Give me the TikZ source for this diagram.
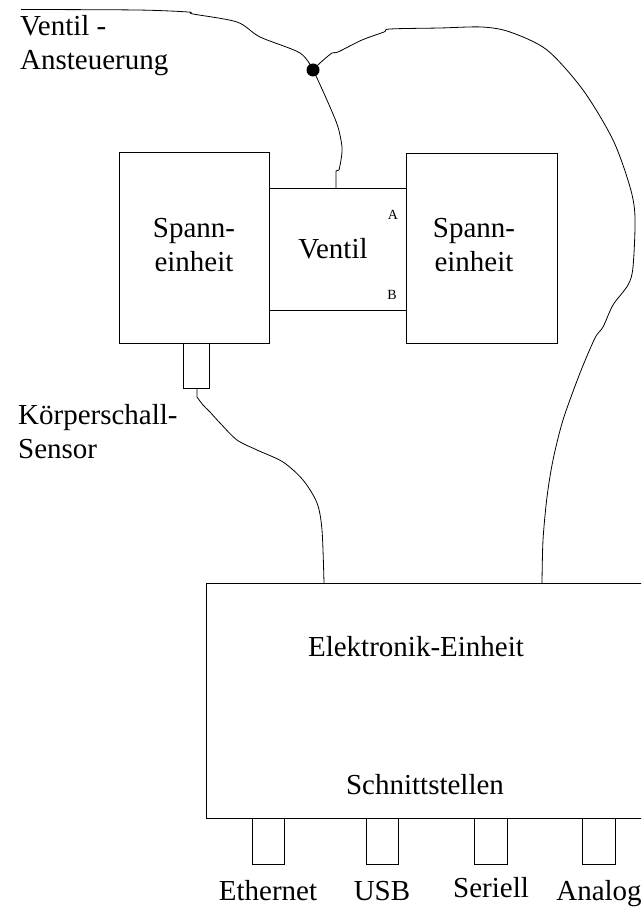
\documentclass[tikz,border=0pt]{standalone}
\usepackage{fontspec}
\setmainfont{Liberation Serif}
\begin{document}
\begin{tikzpicture}[x=1pt,y=-1pt,
  box/.style={draw, line width=0.9pt, rectangle, inner sep=0pt, anchor=north west},
  wire/.style={draw, line width=0.8pt},
  big/.style={font=\fontsize{29}{33.5}\selectfont, inner sep=0pt},
  small/.style={font=\fontsize{14}{16}\selectfont, inner sep=0pt},
  dot/.style={circle, fill=black, inner sep=0pt, minimum size=13pt}]
\useasboundingbox (0,0) rectangle (641,909);
\clip (0,0) rectangle (641,909);
% boxes
\node[box, minimum width=150pt, minimum height=191pt] (SL) at (119,152) {};
\node[box, minimum width=137pt, minimum height=122pt] (V) at (269,188) {};
\node[box, minimum width=151pt, minimum height=190pt] (SR) at (406,153) {};
\node[box, minimum width=26pt, minimum height=45pt] (KS) at (183,343) {};
\node[box, minimum width=500pt, minimum height=235pt] (EE) at (206,583) {};
\node[box, minimum width=32pt, minimum height=46pt] (pE) at (252,818) {};
\node[box, minimum width=32pt, minimum height=46pt] (pU) at (366,818) {};
\node[box, minimum width=33pt, minimum height=46pt] (pS) at (474,818) {};
\node[box, minimum width=33pt, minimum height=46pt] (pA) at (582,818) {};
% texts
\node[big, anchor=north west, align=left] (tVA) at (20,15.2) {Ventil -\\Ansteuerung};
\node[big, anchor=north west, align=left] (tKS) at (18,404.5) {Körperschall-\\Sensor};
\node[big, anchor=north, align=center] (tSL) at (194,218.4) {Spann-\\einheit};
\node[big, anchor=north, align=center] (tSR) at (474,218.4) {Spann-\\einheit};
\node[big, anchor=base] (tV) at (333,258) {Ventil};
\node[small, anchor=base] (tA) at (393,219) {A};
\node[small, anchor=base] (tB) at (392,299) {B};
\node[big, anchor=base] (tEE) at (416,656) {Elektronik-Einheit};
\node[big, anchor=base] (tS) at (425,794) {Schnittstellen};
\node[big, anchor=base] (lE) at (268,900) {Ethernet};
\node[big, anchor=base] (lU) at (382,900) {USB};
\node[big, anchor=base] (lS) at (491,897) {Seriell};
\node[big, anchor=base] (lA) at (599,900) {Analog};
% wire end points
\coordinate (J) at (313,70);
\coordinate (wS) at (21,9.5);
\coordinate (vT) at (336,188);
\coordinate (kB) at (197,388);
\coordinate (eL) at (324,583);
\coordinate (eR) at (542,583);
% wires
\draw[wire] plot[smooth, tension=0.5] coordinates {(wS) (137,10) (188,12) (193,14) (237,22) (260,37) (300,53) (J)};
\draw[wire] plot[smooth, tension=0.5] coordinates {(J) (320,63) (332,53) (338,52) (362,40) (384,32) (390,29) (440,28) (482,27) (510,32) (547,50) (583,90) (613,140) (630,187) (635,217) (633,267) (628,285) (613,305) (603,327) (595,338) (580,373) (563,420) (553,460) (547,497) (543,540) (eR)};
\draw[wire] plot[smooth, tension=0.5] coordinates {(J) (317,78) (330,107) (338,127) (342,147) (341,160) (339,170)} -- (336,171) -- (vT);
\draw[wire] (kB) -- (197,397) plot[smooth, tension=0.5] coordinates {(197,397) (203,405) (208,410) (210,412) (220,423) (237,440) (257,450) (283,462) (303,480) (317,503) (322,530) (eL)};
\node[dot] (Jdot) at (J) {};
\end{tikzpicture}
\end{document}
